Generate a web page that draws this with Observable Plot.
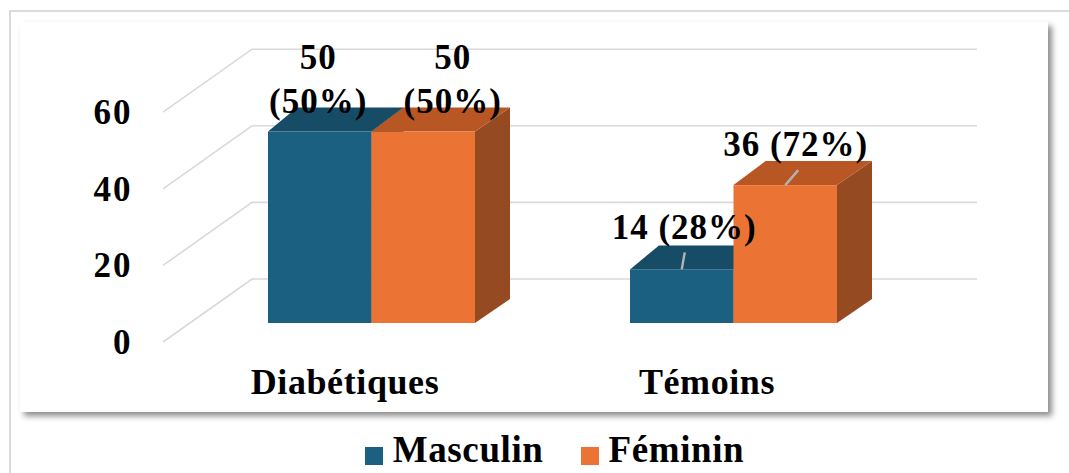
<!DOCTYPE html>
<html>
<head>
<meta charset="utf-8">
<script src="https://cdn.jsdelivr.net/npm/d3@7"></script>
<script src="https://cdn.jsdelivr.net/npm/@observablehq/plot@0.6"></script>
<style>
html, body { margin: 0; padding: 0; background: #fff; width: 1069px; height: 473px; overflow: hidden; }
#frame { position: absolute; left: 9px; top: 10px; right: 0; bottom: 0; border-top: 2px solid #dadada; border-left: 2px solid #dadada; }
#panel { position: absolute; left: 20px; top: 22px; width: 1028px; height: 390px; background: #fff; box-shadow: 4px 4px 6px rgba(0,0,0,0.45); }
#chart { position: absolute; left: 0; top: 0; }
#chart svg { background: transparent !important; overflow: visible; }
#chart g[aria-label="text"] text { letter-spacing: 1px; }
#chart g[aria-label="y-axis tick label"] text { letter-spacing: 2px; }
#chart g[aria-label="x-axis tick label"] text { letter-spacing: 0.6px; }
#legend { position: absolute; top: 420px; left: 0; width: 1069px; box-sizing: border-box; padding-left: 40px; padding-top: 11px;
  display: flex; justify-content: center; font: bold 37px "Liberation Serif", "Times New Roman", serif; line-height: 1; color: #000; letter-spacing: 0.6px; }
#legend .item i { display: inline-block; width: 18px; height: 18px; margin-right: 10px; vertical-align: -3px; }
#legend .item + .item { margin-left: 37px; }
</style>
</head>
<body>
<div id="frame"></div>
<div id="panel"></div>
<div id="chart"></div>
<div id="legend"></div>
<script>
// ---- data ----
const groups = ["Diabétiques", "Témoins"];
const series = ["Masculin", "Féminin"];
const masculinValues = [50, 14];
const femininValues = [50, 36];
const masculinPercents = [50, 28];
const femininPercents = [50, 72];
const yTicks = [0, 20, 40, 60];

// ---- style ----
const frontColors = ["#1b6080", "#eb7434"];
const topColors = ["#164c66", "#b85723"];
const sideColors = ["#123f55", "#954a22"];
const FONT = "Liberation Serif";

// ---- layout ----
const W = 1069, H = 420;
const mL = 268, mR = 232, mT = 93.2, mB = 97;
const pInner = 155 / 362;
const bw = (W - mL - mR) * (1 - pInner) / (2 - pInner);
const depthY = -24, depthXLeft = 29, depthXRight = 35;
const backDY = -44, floorDY = 19;
const gridLeft = mL - 16, gridRight = W - mR + 140, floorX = mL - 105;

const rows = [];
groups.forEach((g, i) => {
  rows.push({group: g, s: 0, sex: series[0], value: masculinValues[i], pct: masculinPercents[i]});
  rows.push({group: g, s: 1, sex: series[1], value: femininValues[i], pct: femininPercents[i]});
});
rows.forEach(d => {
  d.label = d.group === groups[0] ? `${d.value}\n(${d.pct}%)` : `${d.value} (${d.pct}%)`;
});

// label nudges relative to bar front centre [dx, dy], plus optional leader [dx, dy]
const nudges = {
  "Diabétiques|Masculin": {dx: -2, dy: -19},
  "Diabétiques|Féminin": {dx: 29, dy: -19},
  "Témoins|Masculin": {dx: 2, dy: -31, leader: [3, -17]},
  "Témoins|Féminin": {dx: 10, dy: -30, leader: [13, -15]}
};

function bandW(sx) { return typeof sx.bandwidth === "function" ? sx.bandwidth() : sx.bandwidth; }

function gridMark(index, scales) {
  const g = d3.create("svg:g").attr("fill", "none").attr("stroke", "#d9d9d9").attr("stroke-width", 1.6);
  for (const t of yTicks) {
    const y = scales.y(t);
    g.append("path").attr("d", `M${floorX},${y + floorDY}L${gridLeft},${y + backDY}H${gridRight}`);
  }
  return g.node();
}

function bars3d(index, scales) {
  const sx = scales.x, sy = scales.y;
  const b = bandW(sx);
  const inner = d3.scaleBand().domain(series).range([0, b]).padding(0);
  const g = d3.create("svg:g");
  for (const d of rows) {
    const x0 = sx(d.group);
    const xl = x0 + inner(d.sex), xr = xl + inner.bandwidth();
    const yt = sy(d.value), yb = sy(0);
    const ddx = u => depthXLeft + (depthXRight - depthXLeft) * (u - x0) / b;
    g.append("polygon").attr("fill", sideColors[d.s])
      .attr("points", [[xr, yt], [xr + ddx(xr), yt + depthY], [xr + ddx(xr), yb + depthY], [xr, yb]].join(" "));
    g.append("polygon").attr("fill", topColors[d.s])
      .attr("points", [[xl, yt], [xr, yt], [xr + ddx(xr), yt + depthY], [xl + ddx(xl), yt + depthY]].join(" "));
    g.append("rect").attr("fill", frontColors[d.s])
      .attr("x", xl).attr("y", yt).attr("width", xr - xl).attr("height", yb - yt);
  }
  return g.node();
}

function leaders(index, scales) {
  const sx = scales.x, sy = scales.y;
  const b = bandW(sx);
  const inner = d3.scaleBand().domain(series).range([0, b]).padding(0);
  const g = d3.create("svg:g").attr("stroke", "#b3b3b3").attr("stroke-width", 2.4).attr("fill", "none");
  for (const d of rows) {
    const n = nudges[d.group + "|" + d.sex];
    if (!n.leader) continue;
    const cx = sx(d.group) + inner(d.sex) + inner.bandwidth() / 2;
    const yt = sy(d.value);
    g.append("line").attr("x1", cx).attr("y1", yt).attr("x2", cx + n.leader[0]).attr("y2", yt + n.leader[1]);
  }
  return g.node();
}

const labelMarks = rows.map(d => {
  const n = nudges[d.group + "|" + d.sex];
  return Plot.text([d], {
    x: "group", y: "value", text: "label",
    dx: (d.s === 0 ? -bw / 4 : bw / 4) + n.dx, dy: n.dy,
    lineAnchor: "bottom", lineHeight: 1.26,
    fontSize: 35, fontWeight: "bold", fontFamily: FONT, fill: "#000"
  });
});

const chart = Plot.plot({
  width: W, height: H,
  marginLeft: mL, marginRight: mR, marginTop: mT, marginBottom: mB,
  style: {background: "transparent", fontFamily: FONT, color: "#000", overflow: "visible"},
  x: {type: "band", domain: groups, paddingInner: pInner, paddingOuter: 0},
  y: {domain: [0, 60]},
  marks: [
    gridMark,
    bars3d,
    leaders,
    ...labelMarks,
    Plot.axisY(yTicks, {tickSize: 0, tickPadding: 136, dy: floorDY, fontSize: 35, fontWeight: "bold", fontFamily: FONT, fill: "#000", label: null}),
    Plot.axisX({tickSize: 0, tickPadding: 44.5, dx: -27, fontSize: 36, fontWeight: "bold", fontFamily: FONT, fill: "#000", label: null})
  ]
});
document.getElementById("chart").appendChild(chart);

// legend
const legend = d3.select("#legend");
series.forEach((s, i) => {
  const item = legend.append("span").attr("class", "item");
  item.append("i").style("background", frontColors[i]);
  item.append("span").text(s);
});
</script>
</body>
</html>
